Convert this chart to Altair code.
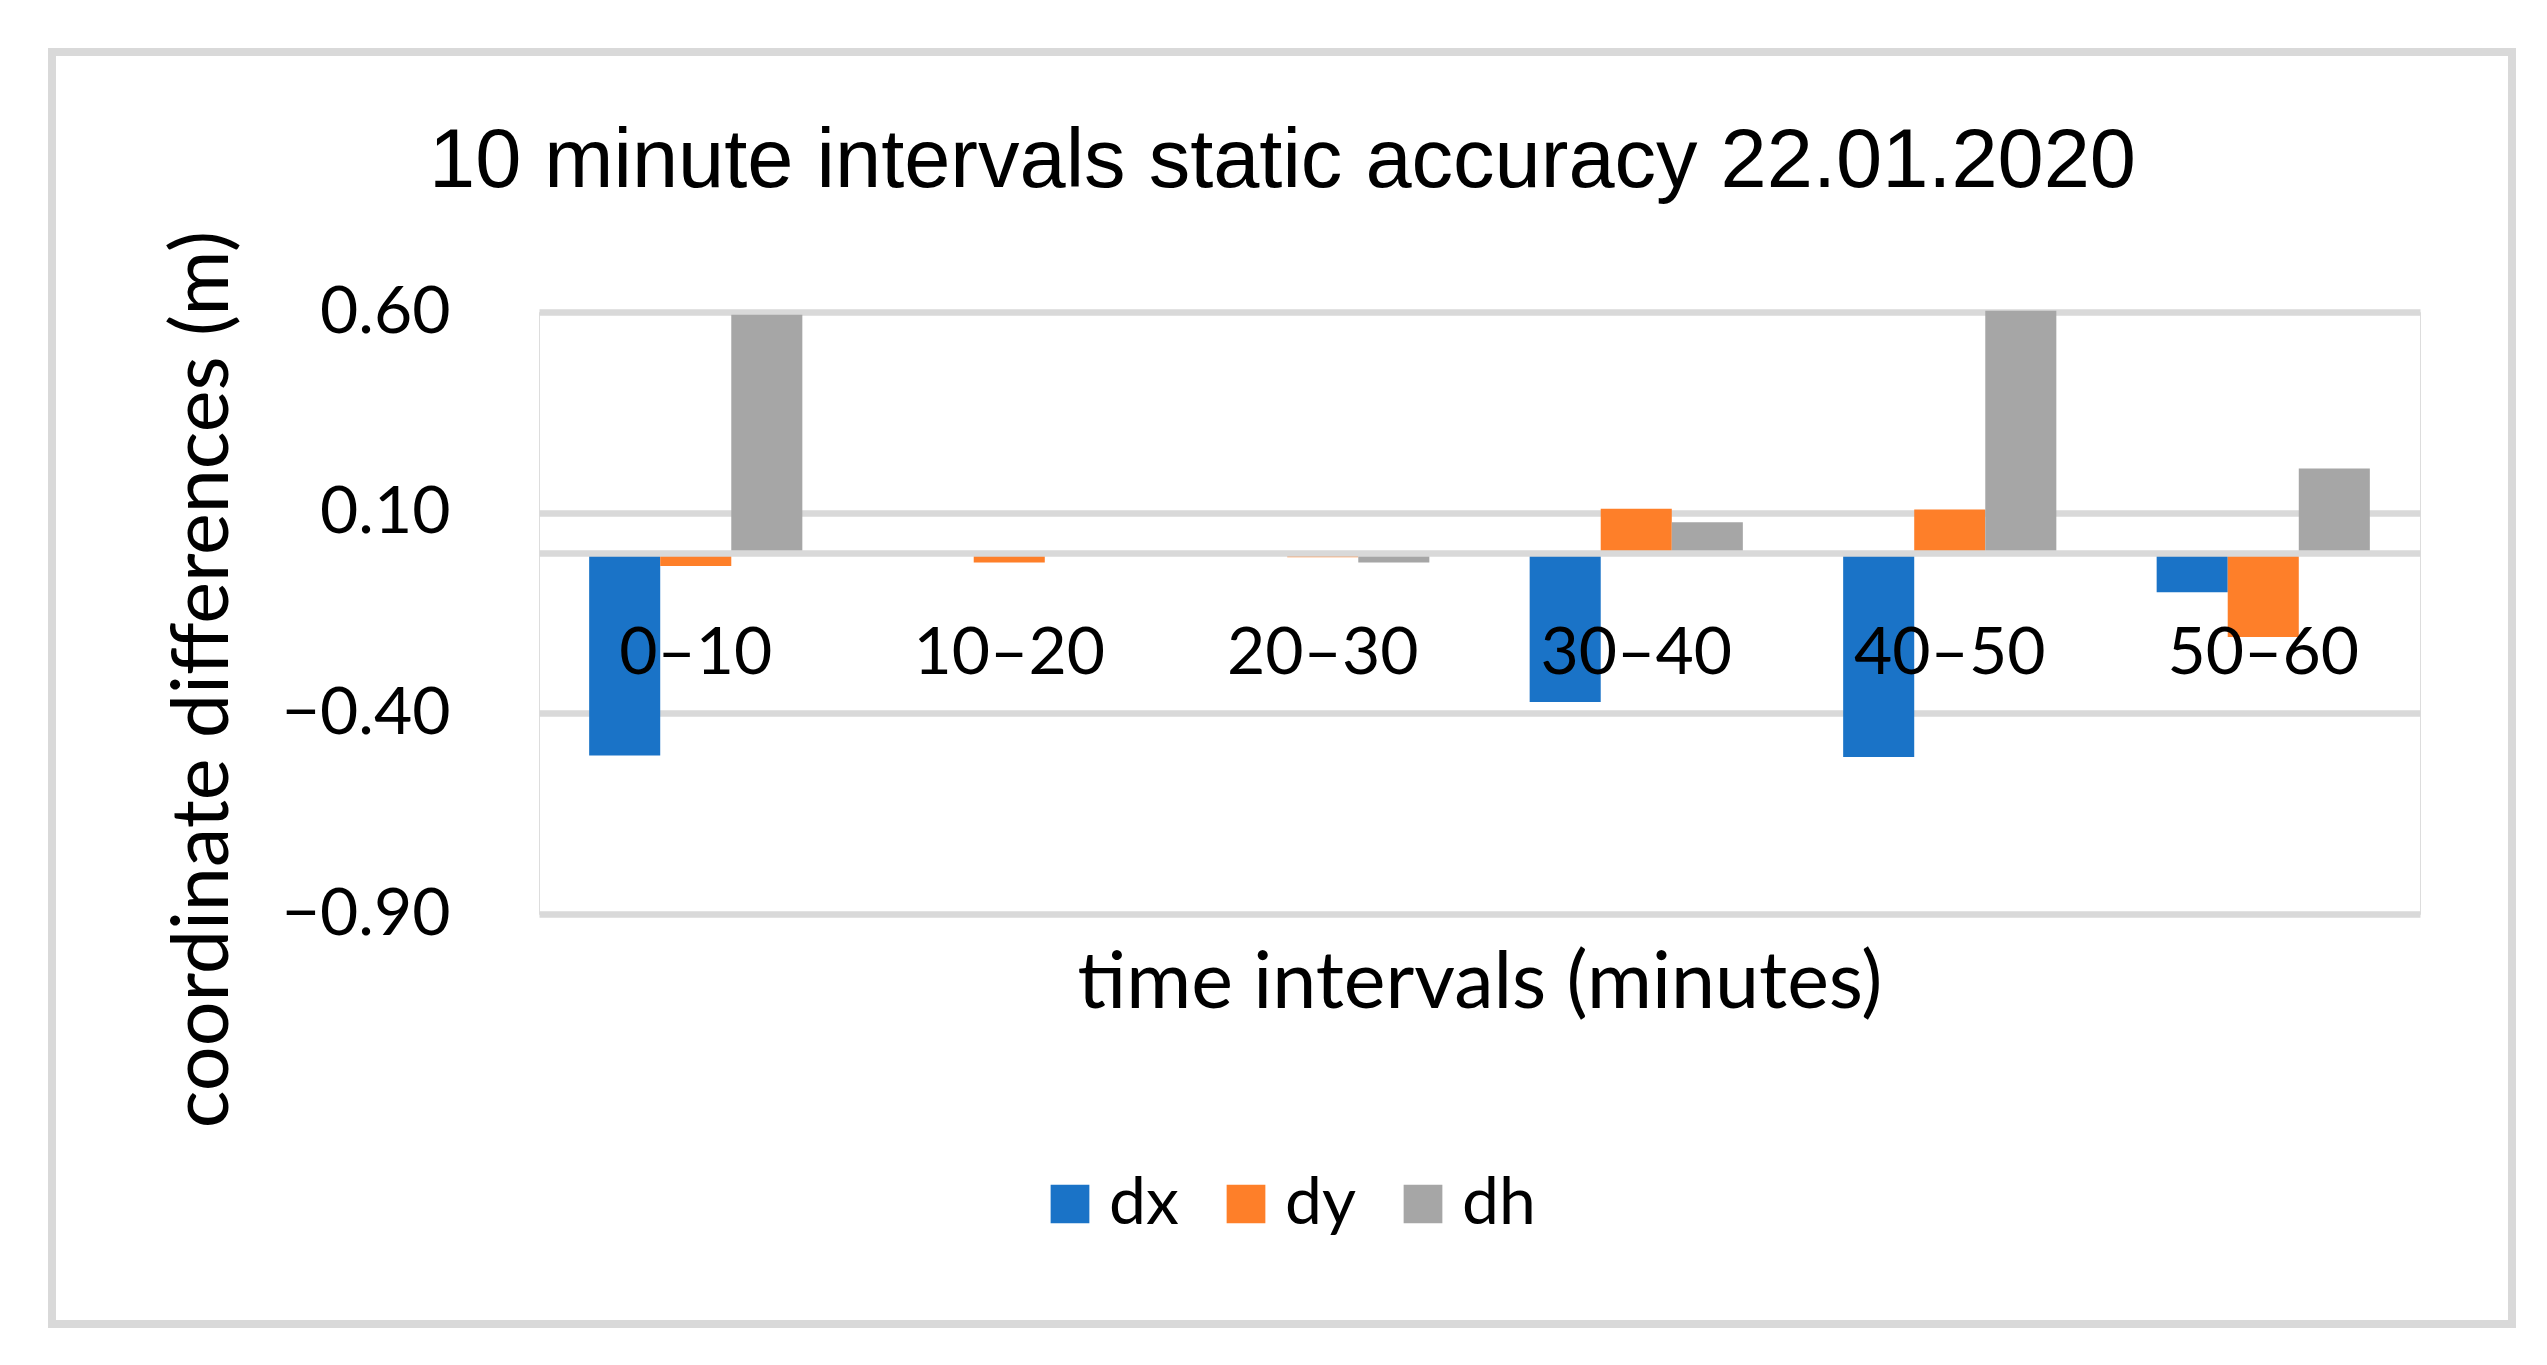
import altair as alt
import pandas as pd

categories = ["0–10", "10–20", "20–30", "30–40", "40–50", "50–60"]
series = ["dx", "dy", "dh"]
dx_values = [-0.505, 0.0, 0.0, -0.372, -0.509, -0.098]
dy_values = [-0.033, -0.024, -0.011, 0.110, 0.108, -0.210]
dh_values = [0.593, 0.0, -0.024, 0.076, 0.603, 0.210]
colors = ["#1A73C7", "#FE7F29", "#A6A6A6"]
y_ticks = [-0.9, -0.4, 0.1, 0.6]

rows = []
for i, cat in enumerate(categories):
    for s, vals in zip(series, [dx_values, dy_values, dh_values]):
        rows.append({"interval": cat, "series": s, "value": vals[i]})
df = pd.DataFrame(rows)

W, H = 1881, 602
GRID = "#D9D9D9"

bars = alt.Chart(df).mark_bar().encode(
    x=alt.X(
        "interval:N",
        sort=categories,
        scale=alt.Scale(paddingInner=0.32, paddingOuter=0.16),
        axis=alt.Axis(
            title="time intervals (minutes)",
            orient="bottom",
            offset=-361,
            labelAngle=0,
            labelFont="Lato",
            labelFontSize=66,
            labelColor="black",
            labelPadding=68,
            labelLimit=1000,
            ticks=False,
            tickSize=0,
            domain=True,
            domainColor=GRID,
            domainWidth=6.5,
            grid=False,
            titleFont="Lato",
            titleFontSize=79,
            titleFontWeight="normal",
            titleColor="black",
            titleBaseline="alphabetic",
            titleAlign="center",
            titleX=W / 2,
            titleY=454,
            zindex=1,
        ),
    ),
    xOffset=alt.XOffset("series:N", sort=series,
                        scale=alt.Scale(paddingInner=0, paddingOuter=0)),
    y=alt.Y(
        "value:Q",
        scale=alt.Scale(domain=[-0.9, 0.6], nice=False, zero=False),
        axis=alt.Axis(
            values=y_ticks,
            format=".2f",
            title="coordinate differences (m)",
            labelFont="Lato",
            labelFontSize=66,
            labelColor="black",
            labelPadding=89,
            ticks=False,
            tickSize=0,
            domain=False,
            grid=True,
            gridColor=GRID,
            gridWidth=6.5,
            titleFont="Lato",
            titleFontSize=79,
            titleFontWeight="normal",
            titleColor="black",
            titleAngle=270,
            titleAlign="center",
            titleBaseline="alphabetic",
            titleX=-312,
            titleY=367,
            zindex=0,
        ),
    ),
    color=alt.Color(
        "series:N",
        sort=series,
        scale=alt.Scale(domain=series, range=colors),
        legend=alt.Legend(
            title=None,
            orient="none",
            legendX=498,
            legendY=859,
            direction="horizontal",
            symbolType="square",
            symbolSize=1500,
            symbolStrokeWidth=0,
            labelFont="Lato",
            labelFontSize=66,
            labelColor="black",
            labelOffset=6,
            columnPadding=34,
            padding=0,
        ),
    ),
)

border = alt.Chart(pd.DataFrame({"k": [0]})).mark_rect(
    fillOpacity=0, stroke=GRID, strokeWidth=8, clip=False
).encode(
    x=alt.value(-487), x2=alt.value(1973), y=alt.value(-260), y2=alt.value(1012)
)

chart = alt.layer(border, bars).properties(
    width=W,
    height=H,
    title=alt.TitleParams(
        text="10 minute intervals static accuracy 22.01.2020",
        font="Liberation Sans",
        fontSize=83,
        fontWeight="normal",
        color="black",
        anchor="middle",
        baseline="alphabetic",
        dx=-197,
        offset=-222,
    ),
    autosize=alt.AutoSizeParams(type="none"),
    padding={"left": 531, "top": 304, "right": 119, "bottom": 430},
).configure_view(stroke=None).configure(background="white")

chart.save("out.html", embed_options={"renderer": "svg", "actions": False})
